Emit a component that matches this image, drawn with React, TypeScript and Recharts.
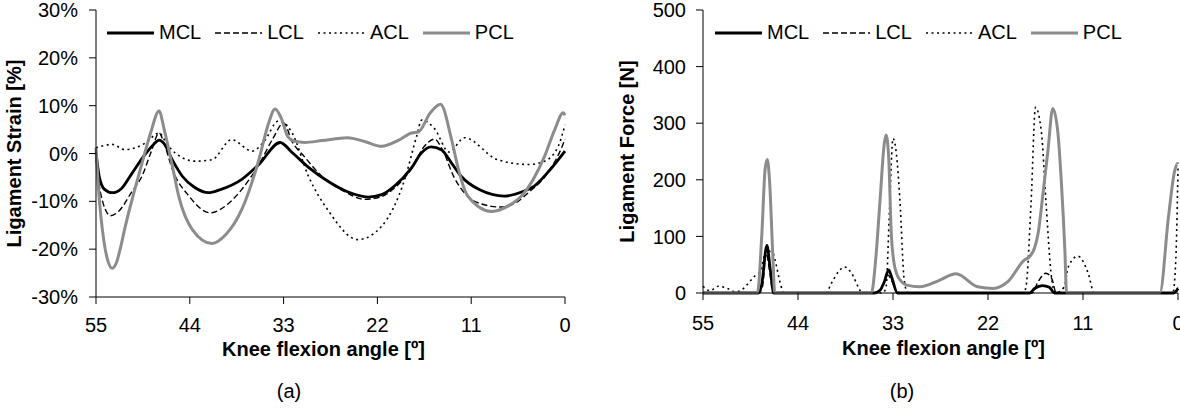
import { Legend, Line, LineChart, XAxis, YAxis } from "recharts";

// knee flexion angle [deg] -> value
const ANGLE_TICKS = [0, 11, 22, 33, 44, 55];
const STRAIN_TICKS = [-30, -20, -10, 0, 10, 20, 30];
const FORCE_TICKS = [0, 100, 200, 300, 400, 500];
const LIGAMENT_NAMES = ["MCL", "LCL", "ACL", "PCL"];

const strainMCL: [number, number][] = [
  [55, 0.2], [54.6, -5], [54, -7.5], [53.1, -8.2], [52, -7.3], [50.8, -4.2],
  [49.5, -0.8], [48.3, 1.8], [47.6, 2.8], [47, 2], [46, -1.5], [44.9, -4.7],
  [43.5, -7], [41.8, -8.2], [40.5, -7.6], [37.9, -5.4], [35.9, -2.3], [33.4, 2.3],
  [32, 0.2], [30, -3], [27.8, -5.8], [25.5, -8], [23.1, -9.1], [21.5, -8.6],
  [20, -6.8], [18, -3], [16.8, 0.2], [15.7, 1.4], [14.5, 0.8], [13.3, -2],
  [12.2, -4.7], [10, -7.6], [7.1, -8.9], [5, -8], [3.6, -6.8], [1.8, -3.5], [0, 0.5],
];

const strainLCL: [number, number][] = [
  [55, -0.5], [54.5, -8], [53.3, -13], [52.3, -12], [50.8, -8], [49.6, -4.7],
  [48.5, 0.5], [47.6, 4.3], [47, 2], [46, -3.5], [44.1, -8.9], [41.6, -12.4],
  [39.5, -10.5], [37.9, -7.5], [35.8, -2], [34.2, 3.3], [33, 6.4], [32, 2.5],
  [30.5, -0.8], [28.5, -4.8], [26, -7.8], [23.5, -9.6], [21.5, -9], [20, -7.2],
  [18, -3.2], [16.5, 1.5], [15.3, 3], [14.3, 0.5], [13, -5], [11.5, -8.8],
  [10.2, -10.3], [7.5, -11.2], [5.5, -10], [4.3, -8.2], [2, -4], [0.4, 1.2], [0, 3],
];

const strainACL: [number, number][] = [
  [55, 1.2], [53.1, 1.9], [51.6, 0.8], [49.2, 2.2], [47.6, 4.3], [46.7, 2],
  [45.7, 0.1], [43.4, -1.6], [41.4, -1.3], [39.1, 2.9], [36.7, 0.5], [35.3, 2.5],
  [33.6, 6.8], [33, 6.5], [32, 4.3], [30.1, -4.7], [27.7, -12.1], [24.3, -18],
  [21.5, -15.2], [18.8, -5.4], [17.4, 3.6], [16.8, 7], [15.3, 5.2], [13.6, 0.3],
  [11.8, 3.3], [7.9, -1.3], [4.3, -2.3], [2.4, -1.6], [0.8, 1.5], [0, 6],
];

const strainPCL: [number, number][] = [
  [55, 1.2], [54.7, -7.5], [54.1, -18], [53.6, -22.5], [53.1, -24], [52.6, -22.8],
  [52.1, -19.5], [51.6, -15.5], [50.6, -8.5], [49.6, -2], [48.6, 4.3], [47.6, 8.9],
  [47, 5], [46, -3], [45.3, -8.9], [43.7, -15.9], [41.4, -18.8], [39.8, -17],
  [37.9, -11.7], [35.9, -1.3], [34.75, 6.4], [34, 9.3], [33.3, 7.5], [32.5, 3.5],
  [31.8, 2.6], [30.5, 2.3], [28.5, 2.7], [25.5, 3.3], [23.5, 2.5], [21.5, 1.5],
  [19.5, 2.8], [18, 4.3], [17.2, 4.5], [15.8, 8.5], [14.6, 10.3], [13.3, 2.9],
  [12.5, -3.3], [11.4, -8.9], [8.6, -12.1], [6.5, -10.8], [5.1, -8.9], [2.4, -0.6],
  [1.2, 5], [0.2, 8.5], [0, 8],
];

const forceMCL: [number, number][] = [
  [55, 0], [48.6, 0], [48.2, 15], [47.6, 84], [47.2, 40], [46.8, 0], [35.2, 0],
  [34.5, 5], [34, 20], [33.5, 41], [33.1, 25], [32.5, 0], [17.2, 0], [16.6, 8],
  [15.7, 13], [14.9, 10], [14.3, 0], [0.5, 0], [0, 8],
];

const forceLCL: [number, number][] = [
  [55, 0], [48.5, 0], [48.1, 12], [47.7, 70], [47.2, 30], [46.9, 0], [35, 0],
  [34.3, 8], [33.6, 32], [33.1, 20], [32.4, 0], [16.9, 0], [16.2, 20], [15.3, 35],
  [14.6, 25], [14.1, 0], [0.5, 0], [0, 10],
];

const forceACL: [number, number][] = [
  [55, 12], [54.2, 4], [53.2, 12], [52.2, 8], [51.2, 2], [50.3, 8], [49.6, 20],
  [49, 30], [48.3, 40], [47.7, 75], [46.9, 70], [46.6, 55], [46.1, 20], [45.6, 0],
  [40.8, 0], [40.1, 18], [39.3, 38], [38.6, 46], [37.8, 35], [37, 10], [36.6, 0],
  [34.2, 0], [33.8, 11], [33.4, 150], [33, 273], [32.6, 245], [32.2, 164], [31.7, 23],
  [31.3, 0], [17.9, 0], [17.6, 11], [17, 164], [16.5, 328], [15.8, 282], [15.3, 164],
  [14.7, 35], [14.2, 0], [13.2, 10], [12.7, 46], [11.6, 65], [10.4, 35], [9.7, 0],
  [0.6, 0], [0.25, 60], [0, 220],
];

const forcePCL: [number, number][] = [
  [55, 0], [48.7, 0], [48.2, 100], [47.8, 220], [47.55, 236], [47.3, 200],
  [46.9, 60], [46.7, 0], [35.5, 0], [35, 60], [34.5, 164], [34, 265], [33.8, 279],
  [33.5, 240], [33.2, 105], [32.9, 55], [32.6, 35], [32, 20], [31.4, 14], [29.9, 11],
  [27.7, 22], [25.7, 34], [23.2, 11], [21.4, 8], [19.7, 20], [17.8, 58], [17.2, 64],
  [16.6, 80], [16.2, 105], [15.6, 180], [15.05, 253], [14.5, 326], [13.9, 282],
  [13.5, 194], [13.1, 76], [12.9, 0], [2.1, 0], [1.1, 135], [0.4, 215], [0.05, 229], [0, 228],
];

const STRAIN_SERIES = [strainMCL, strainLCL, strainACL, strainPCL];
const FORCE_SERIES = [forceMCL, forceLCL, forceACL, forcePCL];

const STYLES = [
  { stroke: "#000", width: 2.8, dash: undefined },
  { stroke: "#000", width: 1.4, dash: "6 3" },
  { stroke: "#000", width: 1.6, dash: "2 3.5" },
  { stroke: "#8c8c8c", width: 3, dash: undefined },
];

const FONT = '"Liberation Sans", Arial, sans-serif';
const W = 590;
const H = 408;

const toPoints = (pairs: [number, number][]) => pairs.map(([x, y]) => ({ x, y }));

function LegendRow() {
  return (
    <div style={{ display: "flex", alignItems: "center", fontSize: 20, color: "#000", lineHeight: "23px" }}>
      {LIGAMENT_NAMES.map((name, i) => (
        <div key={name} style={{ display: "flex", alignItems: "center", marginRight: 14 }}>
          <svg width={47} height={10}>
            <line
              x1={0}
              y1={5}
              x2={47}
              y2={5}
              stroke={STYLES[i].stroke}
              strokeWidth={i === 0 ? 3 : STYLES[i].width}
              strokeDasharray={STYLES[i].dash}
            />
          </svg>
          <span style={{ marginLeft: 5 }}>{name}</span>
        </div>
      ))}
    </div>
  );
}

interface PanelProps {
  offsetX: number;
  plotLeft: number;
  plotRight: number;
  plotBottom: number;
  series: [number, number][][];
  yDomain: [number, number];
  yTicks: number[];
  yFormat: (v: number) => string;
  yTitle: string;
  yTitleX: number;
  yTickMargin: number;
  xTickMargin: number;
  xTitleShift: number;
  xTitleBaseline: number;
  legendLeft: number;
  caption: string;
  captionX: number;
}

function Panel(p: PanelProps) {
  const plotTop = 10;
  const midY = (plotTop + p.plotBottom) / 2;
  return (
    <div style={{ position: "absolute", left: p.offsetX, top: 0, width: W, height: H }}>
      <LineChart
        width={W}
        height={H}
        margin={{ top: plotTop, right: W - p.plotRight, bottom: 0, left: 0 }}
      >
        <XAxis
          dataKey="x"
          type="number"
          domain={[0, 55]}
          reversed
          ticks={ANGLE_TICKS}
          interval={0}
          height={H - p.plotBottom}
          stroke="#000"
          tickSize={7}
          tickMargin={p.xTickMargin}
          tick={{ fontSize: 20, fill: "#000" }}
          label={{
            content: () => (
              <text
                x={(p.plotLeft + p.plotRight) / 2 + p.xTitleShift}
                y={p.xTitleBaseline}
                textAnchor="middle"
                fontSize={20}
                fontWeight="bold"
                fill="#000"
              >
                Knee flexion angle [º]
              </text>
            ),
          }}
        />
        <XAxis
          xAxisId="frame"
          orientation="top"
          type="number"
          domain={[0, 1]}
          height={0}
          tick={false}
          tickLine={false}
          stroke="#555"
        />
        <YAxis
          type="number"
          domain={p.yDomain}
          ticks={p.yTicks}
          interval={0}
          width={p.plotLeft}
          stroke="#000"
          tickSize={7}
          tickMargin={p.yTickMargin}
          tickFormatter={p.yFormat}
          tick={{ fontSize: 20, fill: "#000" }}
          label={{
            content: () => (
              <text
                x={p.yTitleX}
                y={midY}
                transform={`rotate(-90 ${p.yTitleX} ${midY})`}
                textAnchor="middle"
                fontSize={20}
                fontWeight="bold"
                fill="#000"
              >
                {p.yTitle}
              </text>
            ),
          }}
        />
        <YAxis
          yAxisId="frame"
          orientation="right"
          type="number"
          domain={[0, 1]}
          width={0}
          tick={false}
          tickLine={false}
          stroke="#555"
        />
        <Legend
          verticalAlign="middle"
          align="center"
          layout="horizontal"
          content={() => <LegendRow />}
          wrapperStyle={{ left: p.legendLeft, top: 21, width: "auto", height: 23 }}
        />
        {p.series.map((pairs, i) => (
          <Line
            key={LIGAMENT_NAMES[i]}
            name={LIGAMENT_NAMES[i]}
            data={toPoints(pairs)}
            dataKey="y"
            type="monotone"
            stroke={STYLES[i].stroke}
            strokeWidth={STYLES[i].width}
            strokeDasharray={STYLES[i].dash}
            dot={false}
            activeDot={false}
            isAnimationActive={false}
          />
        ))}
      </LineChart>
      <div
        style={{
          position: "absolute",
          left: p.captionX - 40,
          width: 80,
          top: 380,
          textAlign: "center",
          fontSize: 20,
          lineHeight: "23px",
          color: "#000",
        }}
      >
        {p.caption}
      </div>
    </div>
  );
}

export default function App() {
  return (
    <div
      style={{
        position: "absolute",
        left: 0,
        top: 0,
        width: 1180,
        height: H,
        background: "#fff",
        fontFamily: FONT,
        overflow: "hidden",
      }}
    >
      <Panel
        offsetX={0}
        plotLeft={96}
        plotRight={565}
        plotBottom={297}
        series={STRAIN_SERIES}
        yDomain={[-30, 30]}
        yTicks={STRAIN_TICKS}
        yFormat={(v) => `${v}%`}
        yTitle="Ligament Strain [%]"
        yTitleX={21}
        yTickMargin={11}
        xTickMargin={14}
        xTitleShift={-7}
        xTitleBaseline={356}
        legendLeft={107}
        caption="(a)"
        captionX={289}
      />
      <Panel
        offsetX={590}
        plotLeft={113}
        plotRight={588}
        plotBottom={293}
        series={FORCE_SERIES}
        yDomain={[0, 500]}
        yTicks={FORCE_TICKS}
        yFormat={(v) => String(v)}
        yTitle="Ligament Force [N]"
        yTitleX={44}
        yTickMargin={10}
        xTickMargin={16}
        xTitleShift={3}
        xTitleBaseline={355}
        legendLeft={125}
        caption="(b)"
        captionX={312}
      />
    </div>
  );
}
